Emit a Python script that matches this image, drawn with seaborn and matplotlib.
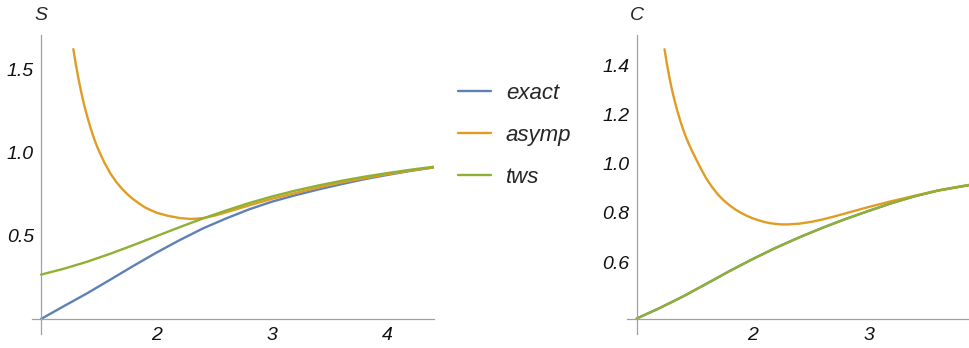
import matplotlib
matplotlib.use("Agg")
import matplotlib.pyplot as plt
import seaborn as sns
import pandas as pd
from matplotlib.ticker import FixedLocator

# ---------------- data ----------------
# Left panel: S
s_x_grid = [1.0, 1.2, 1.4, 1.6, 1.8, 2.0, 2.2, 2.4, 2.6, 2.8, 3.0, 3.2, 3.4, 3.6, 3.8, 4.0, 4.2, 4.4]
s_exact = [0.0, 0.078, 0.155, 0.237, 0.32, 0.400, 0.475, 0.545, 0.605, 0.66, 0.707, 0.745, 0.78, 0.812, 0.842, 0.868, 0.892, 0.913]
s_tws = [0.267, 0.303, 0.345, 0.393, 0.445, 0.499, 0.553, 0.605, 0.653, 0.698, 0.738, 0.773, 0.804, 0.832, 0.857, 0.879, 0.899, 0.917]
s_asymp_x = [1.28, 1.30, 1.325, 1.35, 1.375, 1.40, 1.425, 1.45, 1.475, 1.50, 1.55, 1.60, 1.65, 1.70, 1.75,
             1.80, 1.85, 1.90, 1.95, 2.00, 2.10, 2.20, 2.30, 2.40, 2.50, 2.60, 2.70, 2.80, 2.90, 3.00,
             3.20, 3.40, 3.60, 3.80, 4.00, 4.20, 4.40]
s_asymp = [1.625, 1.540, 1.445, 1.360, 1.285, 1.220, 1.160, 1.105, 1.057, 1.014, 0.940, 0.877, 0.826, 0.785, 0.750,
           0.720, 0.695, 0.672, 0.655, 0.640, 0.621, 0.608, 0.602, 0.607, 0.622, 0.642, 0.663, 0.684, 0.704, 0.724,
           0.758, 0.792, 0.822, 0.848, 0.872, 0.894, 0.913]

# Right panel: C
c_x_grid = [1.0, 1.2, 1.4, 1.6, 1.8, 2.0, 2.2, 2.4, 2.6, 2.8, 3.0, 3.2, 3.4, 3.6, 3.865]
c_exact = [0.370, 0.413, 0.460, 0.511, 0.563, 0.612, 0.658, 0.700, 0.739, 0.775, 0.808, 0.840, 0.868, 0.891, 0.913]
c_tws = [0.370, 0.413, 0.460, 0.511, 0.563, 0.612, 0.658, 0.700, 0.739, 0.775, 0.808, 0.840, 0.868, 0.891, 0.913]
c_asymp_x = [1.24, 1.26, 1.28, 1.30, 1.325, 1.35, 1.375, 1.40, 1.425, 1.45, 1.475, 1.50, 1.55, 1.60, 1.65,
             1.70, 1.75, 1.80, 1.85, 1.90, 1.95, 2.00, 2.05, 2.10, 2.15, 2.20, 2.25, 2.30, 2.40, 2.50,
             2.60, 2.70, 2.80, 2.90, 3.00, 3.20, 3.40, 3.60, 3.865]
c_asymp = [1.466, 1.408, 1.356, 1.310, 1.260, 1.216, 1.176, 1.140, 1.108, 1.080, 1.054, 1.030, 0.983, 0.940, 0.905,
           0.875, 0.851, 0.831, 0.814, 0.800, 0.788, 0.778, 0.770, 0.763, 0.758, 0.755, 0.753, 0.753, 0.756, 0.763,
           0.773, 0.785, 0.798, 0.811, 0.824, 0.848, 0.870, 0.892, 0.914]

series_names = ["exact", "asymp", "tws"]
colors = ["#5E81B5", "#E19C24", "#8FB032"]

x_ticks_s = [2, 3, 4]
y_ticks_s = [0.5, 1.0, 1.5]
y_labels_s = ["0.5", "1.0", "1.5"]
x_ticks_c = [2, 3]
y_ticks_c = [0.6, 0.8, 1.0, 1.2, 1.4]
y_labels_c = ["0.6", "0.8", "1.0", "1.2", "1.4"]


def long_df(xg, exact, ax_x, asymp, tws):
    rows = []
    for x, v in zip(xg, exact):
        rows.append(("exact", x, v))
    for x, v in zip(ax_x, asymp):
        rows.append(("asymp", x, v))
    for x, v in zip(xg, tws):
        rows.append(("tws", x, v))
    return pd.DataFrame(rows, columns=["series", "x", "y"])


df_s = long_df(s_x_grid, s_exact, s_asymp_x, s_asymp, s_tws)
df_c = long_df(c_x_grid, c_exact, c_asymp_x, c_asymp, c_tws)

# ---------------- figure ----------------
sns.set_style("white")
plt.rcParams["font.family"] = ["Liberation Sans", "DejaVu Sans"]
plt.rcParams["font.style"] = "italic"
plt.rcParams["lines.solid_joinstyle"] = "round"

W, H = 969, 348
fig = plt.figure(figsize=(W / 100, H / 100), dpi=100)


def px_axes(l, r, t, b):
    return fig.add_axes([l / W, 1 - b / H, (r - l) / W, (b - t) / H])


ax1 = px_axes(32, 434, 35, 334)
ax2 = px_axes(626.7, 969, 35, 334)

palette = dict(zip(series_names, colors))
for ax, df in ((ax1, df_s), (ax2, df_c)):
    sns.lineplot(data=df, x="x", y="y", hue="series", hue_order=series_names,
                 palette=palette, ax=ax, linewidth=1.7, sort=True,
                 estimator=None, legend=False)

ax1.set_xlim(1 - 9 / 116, 4.4)
ax1.set_ylim(-15 / 166, 1.71)
ax2.set_xlim(1 - 10 / 116, 3.865)
ax2.set_ylim(0.368 - 15 / 246, 1.524)

axis_col = "#a0a0a0"
for ax, origin_y, xt, yt, yl, yminor in (
        (ax1, 0.0, x_ticks_s, y_ticks_s, y_labels_s,
         [0.1, 0.2, 0.3, 0.4, 0.6, 0.7, 0.8, 0.9, 1.1, 1.2, 1.3, 1.4, 1.6, 1.7]),
        (ax2, 0.368, x_ticks_c, y_ticks_c, y_labels_c,
         [0.4, 0.45, 0.5, 0.55, 0.65, 0.7, 0.75, 0.85, 0.9, 0.95, 1.05, 1.1, 1.15,
          1.25, 1.3, 1.35, 1.45, 1.5])):
    ax.set_facecolor("none")
    ax.spines["top"].set_visible(False)
    ax.spines["right"].set_visible(False)
    ax.spines["left"].set_position(("data", 1.0))
    ax.spines["bottom"].set_position(("data", origin_y))
    for sp in ("left", "bottom"):
        ax.spines[sp].set_color(axis_col)
        ax.spines[sp].set_linewidth(0.9)
    ax.xaxis.set_major_locator(FixedLocator(xt))
    ax.set_xticklabels([str(v) for v in xt])
    ax.yaxis.set_major_locator(FixedLocator(yt))
    ax.set_yticklabels(yl)
    xmin = [v / 10 for v in range(12, 46, 2) if v % 10 != 0]
    ax.xaxis.set_minor_locator(FixedLocator(xmin))
    ax.yaxis.set_minor_locator(FixedLocator(yminor))
    ax.tick_params(which="major", direction="in", length=4, width=0.8, color=axis_col,
                   labelsize=14, labelcolor="#111111")
    ax.tick_params(axis="x", which="major", pad=6)
    ax.tick_params(axis="y", which="major", pad=5)
    ax.tick_params(which="minor", direction="in", length=2, width=0.7, color=axis_col)
    for t in ax.get_xticklabels() + ax.get_yticklabels():
        t.set_fontstyle("italic")
    ax.set_xlabel("")
    ax.set_ylabel("")
    ax.grid(False)

fig.text(41 / W, 1 - 15.5 / H, "S", ha="center", va="center", fontsize=14, style="italic")
fig.text(636.5 / W, 1 - 15.5 / H, "C", ha="center", va="center", fontsize=14, style="italic")

handles = [plt.Line2D([], [], color=c, linewidth=1.7) for c in colors]
leg = fig.legend(handles, series_names, loc="upper left",
                 bbox_to_anchor=(447 / W, 1 - 72 / H), frameon=False,
                 prop={"size": 16, "style": "italic"}, handlelength=1.5,
                 handletextpad=0.65, labelspacing=0.94, borderpad=0)

fig.savefig("out.png", dpi=100)
